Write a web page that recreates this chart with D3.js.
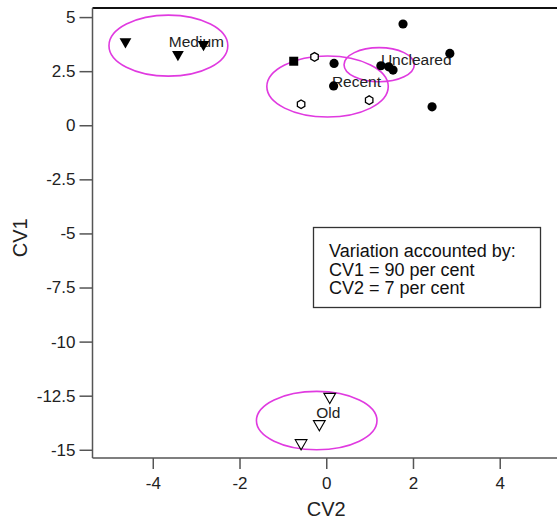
<!DOCTYPE html>
<html><head><meta charset="utf-8">
<script src="https://cdn.jsdelivr.net/npm/d3@7"></script>
<style>body{margin:0;background:#fff}svg{display:block;font-family:"Liberation Sans",Arial,sans-serif}</style>
</head><body><svg id="c" width="557" height="522"></svg>
<script>
// Data (CV2 = x, CV1 = y)
const mediumPts = [[-4.63,3.86],[-3.42,3.27],[-2.83,3.74]];
const oldPts = [[0.08,-12.55],[-0.16,-13.81],[-0.58,-14.69]];
const recentOpen = [[-0.27,3.16],[-0.58,0.97],[0.99,1.16]];
const filledSquare = [[-0.75,2.96]];
const filledCircles = [[0.18,2.86],[0.17,1.82],[1.77,4.68],[2.85,3.32],[1.26,2.75],[1.44,2.70],[1.54,2.55],[2.44,0.85]];
const ellipses = [ // cx, cy, rx, ry (data units)
  {name:"Medium", cx:-3.64, cy:3.68, rx:1.37, ry:1.41},
  {name:"Recent", cx:0.03, cy:1.79, rx:1.40, ry:1.41},
  {name:"Uncleared", cx:1.22, cy:2.80, rx:0.81, ry:0.79},
  {name:"Old", cx:-0.22, cy:-13.65, rx:1.39, ry:1.35}
];
const groupLabels = [
  {text:"Medium", x:-3.63, y:3.61},
  {text:"Recent", x:0.13, y:1.78},
  {text:"Uncleared", x:1.26, y:2.78},
  {text:"Old", x:-0.23, y:-13.52}
];
const xTicks = [-4,-2,0,2,4];
const yTicks = [5,2.5,0,-2.5,-5,-7.5,-10,-12.5,-15];
const legendLines = ["Variation accounted by:","CV1 = 90 per cent","CV2 = 7 per cent"];

const svg = d3.select("#c");
const L=92.5, R=560, T=8, B=458;
const x = d3.scaleLinear().domain([-5.39,5.39]).range([L,R]);
const y = d3.scaleLinear().domain([5.42,-15.38]).range([T,B]);

// top frame line
svg.append("line").attr("x1",L).attr("x2",557).attr("y1",T).attr("y2",T).attr("stroke","#111").attr("stroke-width",2);

// axes
const fmt = d => String(d);
const yAx = svg.append("g").attr("transform",`translate(${L},0)`)
  .call(d3.axisLeft(y).tickValues(yTicks).tickFormat(fmt).tickSize(13).tickPadding(4).tickSizeOuter(0));
const xAx = svg.append("g").attr("transform",`translate(0,${B})`)
  .call(d3.axisBottom(x).tickValues(xTicks).tickFormat(fmt).tickSize(11).tickPadding(4).tickSizeOuter(0));
[yAx,xAx].forEach(g=>{
  g.select(".domain").attr("stroke","#555").attr("stroke-width",1.5);
  g.selectAll(".tick line").attr("stroke","#555").attr("stroke-width",1.5);
  g.selectAll(".tick text").attr("fill","#222").style("font-size","17px").style("font-family","Liberation Sans, Arial, sans-serif");
});
yAx.select(".domain").attr("d",`M0,${T}V${B}`);
xAx.select(".domain").attr("d",`M${L},0H557`);
xAx.selectAll(".tick text").attr("dy","0.95em");

// axis titles
svg.append("text").attr("x",x(0)).attr("y",516).attr("text-anchor","middle")
  .style("font-size","20px").attr("fill","#222").text("CV2");
svg.append("text").attr("transform",`translate(27,${y(-5.2)}) rotate(-90)`).attr("text-anchor","middle")
  .style("font-size","20px").attr("fill","#222").text("CV1");

// ellipses
svg.append("g").selectAll("ellipse").data(ellipses).join("ellipse")
  .attr("cx",d=>x(d.cx)).attr("cy",d=>y(d.cy))
  .attr("rx",d=>x(d.rx)-x(0)).attr("ry",d=>y(0)-y(d.ry))
  .attr("fill","none").attr("stroke","#e03ae0").attr("stroke-width",1.6);

// group labels
svg.append("g").selectAll("text").data(groupLabels).join("text")
  .attr("x",d=>x(d.x)).attr("y",d=>y(d.y)).style("font-size","15.5px").attr("fill","#222").text(d=>d.text);

// markers
const tri = d3.symbol().type(d3.symbolTriangle).size(60);
svg.append("g").selectAll("path").data(mediumPts).join("path")
  .attr("d",tri).attr("transform",d=>`translate(${x(d[0])},${y(d[1])}) rotate(180)`).attr("fill","#000");
svg.append("g").selectAll("path").data(oldPts).join("path")
  .attr("d",tri).attr("transform",d=>`translate(${x(d[0])},${y(d[1])}) rotate(180)`).attr("fill","#fff").attr("stroke","#000").attr("stroke-width",1.1);
const hex = d => { const r=4.3; return d3.range(6).map(i=>{const a=Math.PI/3*i-Math.PI/2; return [r*Math.cos(a), r*Math.sin(a)];}); };
svg.append("g").selectAll("path").data(recentOpen).join("path")
  .attr("d",d=>"M"+hex(d).join("L")+"Z").attr("transform",d=>`translate(${x(d[0])},${y(d[1])})`)
  .attr("fill","#fff").attr("stroke","#000").attr("stroke-width",1.3);
svg.append("g").selectAll("rect").data(filledSquare).join("rect")
  .attr("x",d=>x(d[0])-4.5).attr("y",d=>y(d[1])-4.5).attr("width",9).attr("height",9).attr("fill","#000");
svg.append("g").selectAll("circle").data(filledCircles).join("circle")
  .attr("cx",d=>x(d[0])).attr("cy",d=>y(d[1])).attr("r",4.6).attr("fill","#000");

// legend box
const lg = svg.append("g");
lg.append("rect").attr("x",313.5).attr("y",227.5).attr("width",227).attr("height",80)
  .attr("fill","#fff").attr("stroke","#333").attr("stroke-width",1.3);
lg.selectAll("text").data(legendLines).join("text")
  .attr("x",329).attr("y",(d,i)=>257+i*18.6).style("font-size","18px").attr("fill","#111").text(d=>d);
</script>
</body></html>
